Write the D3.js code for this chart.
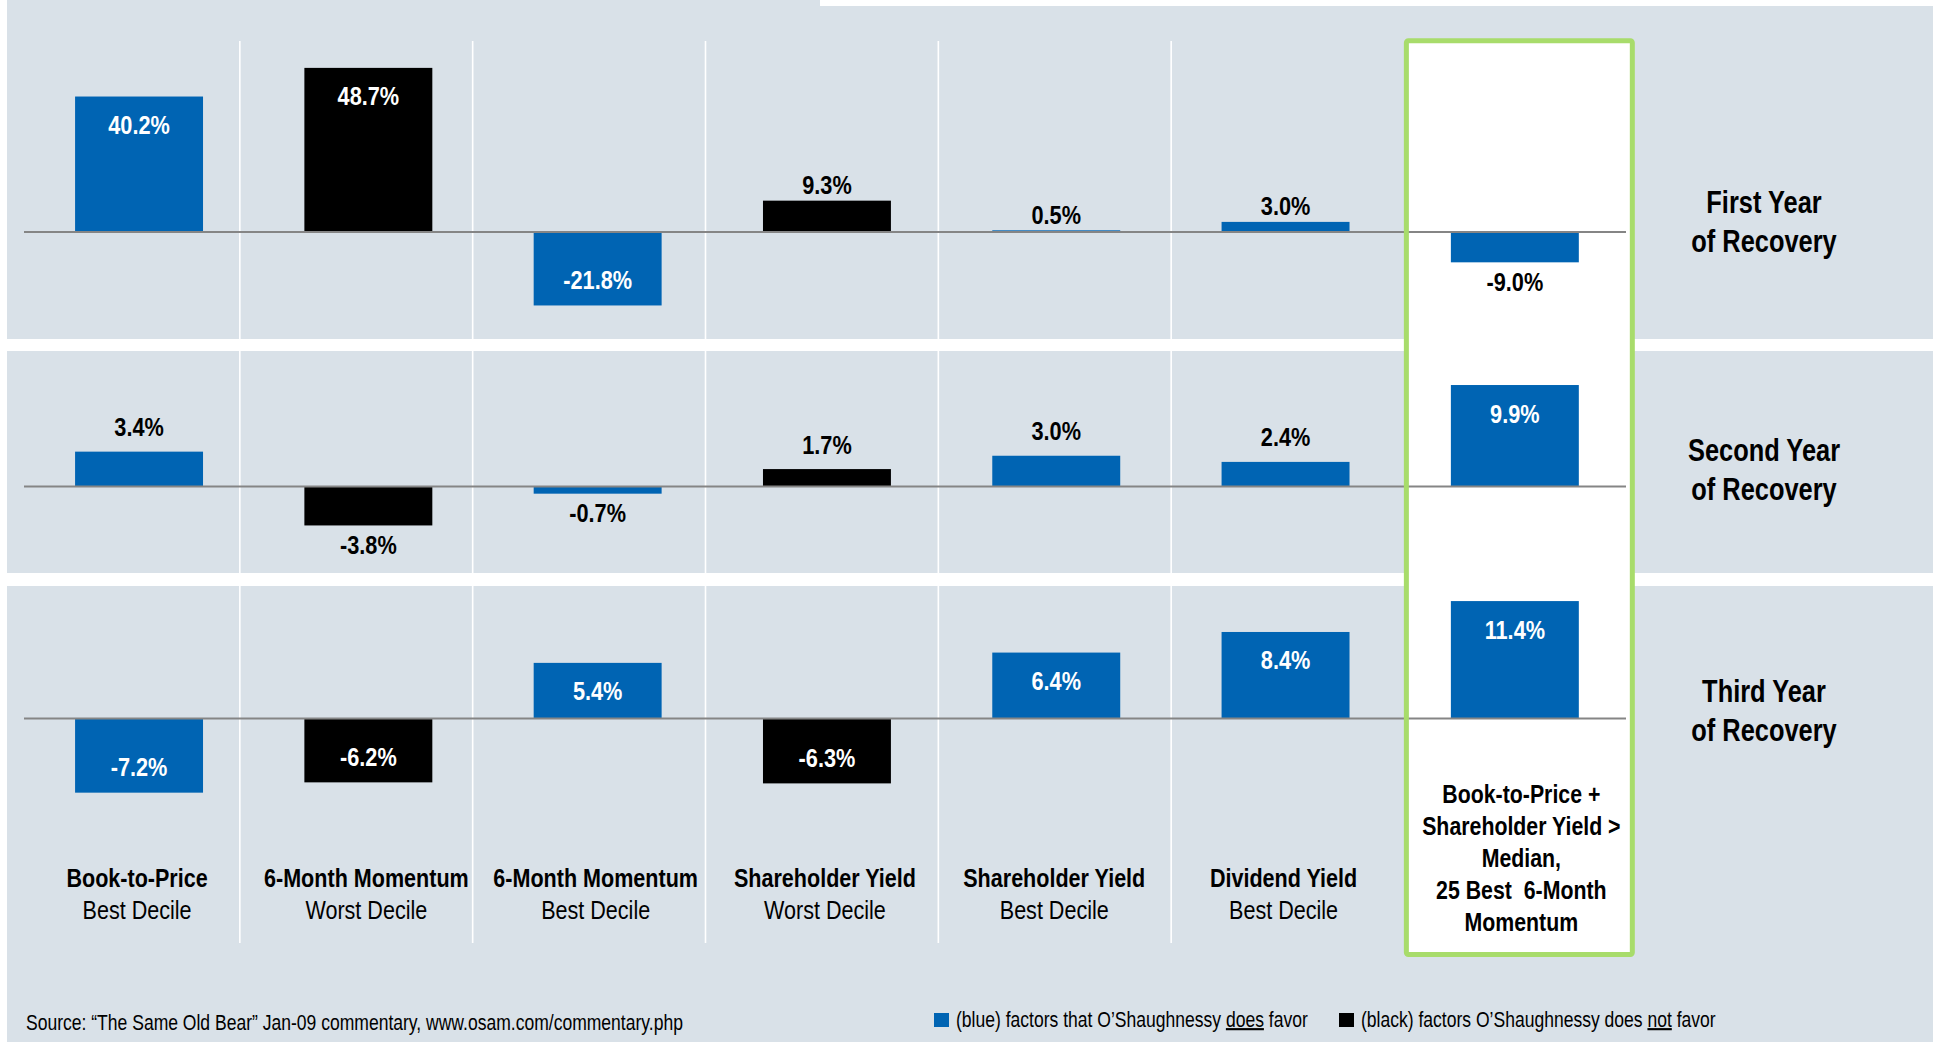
<!DOCTYPE html>
<html><head><meta charset="utf-8">
<script src="https://cdn.jsdelivr.net/npm/d3@7"></script>
<style>html,body{margin:0;padding:0;background:#fff;overflow:hidden}</style>
</head><body>
<svg id="chart" width="1939" height="1042"></svg>
<script>
// ---------------- data ----------------
const categoryMain = ["Book-to-Price", "6-Month Momentum", "6-Month Momentum", "Shareholder Yield", "Shareholder Yield", "Dividend Yield", "Book-to-Price + Shareholder Yield > Median, 25 Best 6-Month Momentum"];
const categoryDecile = ["Best Decile", "Worst Decile", "Best Decile", "Worst Decile", "Best Decile", "Best Decile", ""];
const compositeLabelLines = ["Book-to-Price +", "Shareholder Yield >", "Median,", "25 Best  6-Month", "Momentum"];
const favored = [true, false, true, false, true, true, true];
const year1Returns = [40.2, 48.7, -21.8, 9.3, 0.5, 3.0, -9.0];
const year2Returns = [3.4, -3.8, -0.7, 1.7, 3.0, 2.4, 9.9];
const year3Returns = [-7.2, -6.2, 5.4, -6.3, 6.4, 8.4, 11.4];
const rowTitles = [["First Year", "of Recovery"], ["Second Year", "of Recovery"], ["Third Year", "of Recovery"]];
const sourceText = "Source: \u201CThe Same Old Bear\u201D Jan-09 commentary, www.osam.com/commentary.php";
const legendFavor = ["(blue) factors that O\u2019Shaughnessy ", "does", " favor"];
const legendNotFavor = ["(black) factors O\u2019Shaughnessy does ", "not", " favor"];

// ---------------- layout / style ----------------
const W = 1939, H = 1042;
const BLUE = "#0064b3", BLACK = "#000000", PANEL = "#d9e1e8", GREEN = "#a8dc6b", AXIS = "#858585";
const FONT = "'Liberation Sans', Arial, sans-serif";
const NARROW = 0.82;
const rows = [
  { values: year1Returns, baseline: 232, k: 3.37, outAbove: 16, panel: [0, 339], titleY: 213 },
  { values: year2Returns, baseline: 486.5, k: 10.25, outAbove: 25, panel: [351, 573], titleY: 461 },
  { values: year3Returns, baseline: 718.5, k: 10.3, outAbove: 25, panel: [586, 1042], titleY: 702 }
];

const svg = d3.select("#chart");
const x = d3.scaleBand().domain(d3.range(categoryMain.length))
  .range([24.4, 1629.5]).paddingInner(0.442).paddingOuter(0.221);
const bw = x.bandwidth();
const last = categoryMain.length - 1;
// table cells behind the regular categories (for separators)
const cell = d3.scaleBand().domain(d3.range(last)).range([7, 1404]);
const fmt = d3.formatLocale({ decimal: ".", thousands: ",", grouping: [3], currency: ["", ""], minus: "-" }).format(".1f");

function txt(g, px, py, s, size, weight, fill, anchor) {
  return g.append("text")
    .attr("transform", `translate(${px},${py}) scale(${NARROW},1)`)
    .attr("text-anchor", anchor || "middle")
    .attr("font-family", FONT)
    .attr("font-size", size)
    .attr("font-weight", weight || "normal")
    .attr("fill", fill || "#000")
    .style("white-space", "pre")
    .text(s);
}

// panels
rows.forEach(r => {
  svg.append("rect").attr("x", 7).attr("y", r.panel[0]).attr("width", 1933 - 7)
    .attr("height", r.panel[1] - r.panel[0]).attr("fill", PANEL);
});
svg.append("rect").attr("x", 820).attr("y", 0).attr("width", W - 820).attr("height", 6).attr("fill", "#fff");

// highlight box (last category)
const boxL = x(last) - 44.5, boxR = x(last) + bw + 53.5;
const boxT = 40.8, boxB = 954.5;
svg.append("rect").attr("x", boxL).attr("y", boxT).attr("width", boxR - boxL).attr("height", boxB - boxT)
  .attr("fill", "#fff");

// vertical separators between categories
const seps = d3.range(1, last).map(i => cell(i));
svg.selectAll("line.sep").data(seps).enter().append("line")
  .attr("x1", d => d).attr("x2", d => d).attr("y1", 41).attr("y2", 943)
  .attr("stroke", "#ffffff").attr("stroke-width", 1.6);

// bars and labels
rows.forEach((r, ri) => {
  const y = d3.scaleLinear().domain([0, 1]).range([r.baseline, r.baseline - r.k]);
  const g = svg.append("g");
  g.selectAll("rect").data(r.values).enter().append("rect")
    .attr("x", (d, i) => x(i))
    .attr("width", bw)
    .attr("y", d => y(Math.max(0, d)))
    .attr("height", d => Math.abs(y(d) - y(0)))
    .attr("fill", (d, i) => favored[i] ? BLUE : BLACK);
  // axis line
  g.append("line").attr("x1", 24).attr("x2", 1626).attr("y1", y(0)).attr("y2", y(0))
    .attr("stroke", AXIS).attr("stroke-width", 2.2);
  // value labels
  r.values.forEach((v, i) => {
    const hpx = Math.abs(y(v) - y(0));
    const inside = hpx > 45;
    let cy;
    if (v >= 0) cy = inside ? y(v) + 28 : y(v) - r.outAbove;
    else cy = inside ? y(v) - 26 : y(v) + 19;
    txt(g, x(i) + bw / 2, cy + 9.5, fmt(v) + "%", 26.5, "bold", inside ? "#fff" : "#000");
  });
  // row title
  rowTitles[ri].forEach((s, li) => txt(svg, 1764, r.titleY + li * 38.5, s, 31, "bold", "#000"));
});

// highlight box border on top
svg.append("rect").attr("x", boxL).attr("y", boxT).attr("width", boxR - boxL).attr("height", boxB - boxT)
  .attr("rx", 2).attr("fill", "none").attr("stroke", GREEN).attr("stroke-width", 5);

// category labels
categoryMain.forEach((c, i) => {
  if (i === last) return;
  txt(svg, x(i) + bw / 2 - 2, 887, c, 26.3, "bold", "#000");
  txt(svg, x(i) + bw / 2 - 2, 919, categoryDecile[i], 26.3, "normal", "#000");
});
compositeLabelLines.forEach((s, li) => txt(svg, (boxL + boxR) / 2 + 2, 803 + li * 32, s, 26, "bold", "#000"));

// source
txt(svg, 26, 1030, sourceText, 21.4, "normal", "#000", "start");

// legend
function legendItem(sx, color, parts) {
  svg.append("rect").attr("x", sx).attr("y", 1013).attr("width", 15).attr("height", 14).attr("fill", color);
  const t = txt(svg, sx + 22, 1027, "", 21.4, "normal", "#000", "start");
  parts.forEach((p, pi) => {
    const ts = t.append("tspan").text(p);
    if (pi === 1) ts.style("text-decoration", "underline");
  });
}
legendItem(934, BLUE, legendFavor);
legendItem(1339, BLACK, legendNotFavor);
</script>
</body></html>
